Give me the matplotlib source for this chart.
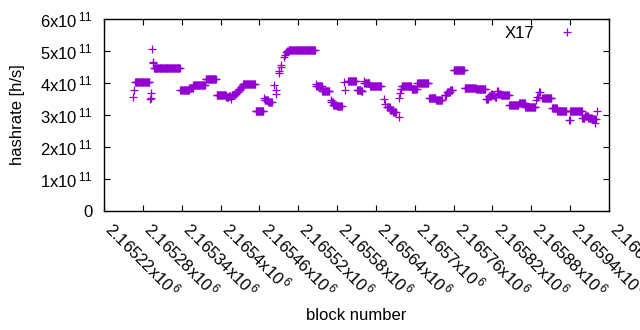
import numpy as np
import matplotlib
matplotlib.use("Agg")
import matplotlib.pyplot as plt
from matplotlib.ticker import FixedLocator, FuncFormatter, NullFormatter
from matplotlib.transforms import offset_copy

plt.rcParams["font.family"] = ["Liberation Sans", "DejaVu Sans"]
plt.rcParams["mathtext.default"] = "regular"

# Hashrate per block, stored as runs of equal value (start block, run length, value in 1e11 h/s)
run_start = [
    2165265, 2165267, 2165268, 2165291, 2165292, 2165293, 2165294, 2165295, 2165296, 2165297,
    2165338, 2165352, 2165358, 2165377, 2165394, 2165409, 2165413, 2165416, 2165417, 2165421,
    2165425, 2165428, 2165431, 2165435, 2165454, 2165467, 2165468, 2165474, 2165482, 2165485,
    2165486, 2165490, 2165491, 2165493, 2165494, 2165498, 2165499, 2165501, 2165503, 2165505,
    2165547, 2165548, 2165557, 2165570, 2165571, 2165574, 2165580, 2165591, 2165593, 2165597,
    2165611, 2165617, 2165621, 2165622, 2165631, 2165652, 2165654, 2165657, 2165662, 2165667,
    2165675, 2165676, 2165677, 2165678, 2165680, 2165695, 2165704, 2165722, 2165733, 2165746,
    2165750, 2165755, 2165760, 2165777, 2165795, 2165810, 2165814, 2165818, 2165820, 2165824,
    2165827, 2165829, 2165833, 2165846, 2165861, 2165871, 2165887, 2165889, 2165892, 2165897,
    2165912, 2165920, 2165938, 2165940, 2165959, 2165963, 2165968, 2165974, 2165978, 2165979,
    2165982,
]
run_len = [
    1, 1, 23, 1, 1, 1, 1, 1, 1, 41,
    14, 6, 19, 17, 15, 4, 3, 1, 4, 4,
    3, 3, 4, 19, 13, 1, 6, 6, 1, 1,
    1, 1, 1, 1, 1, 1, 1, 1, 2, 42,
    1, 9, 12, 1, 3, 6, 8, 1, 1, 13,
    6, 3, 1, 9, 18, 1, 1, 5, 5, 5,
    1, 1, 1, 2, 15, 9, 18, 11, 10, 4,
    5, 4, 17, 18, 15, 4, 4, 2, 4, 3,
    2, 3, 13, 15, 10, 16, 1, 2, 2, 15,
    8, 15, 2, 19, 4, 5, 6, 4, 1, 2,
    1,
]
run_hashrate = [
    3.57, 3.78, 4.02, 3.50, 3.53, 3.68, 5.07, 4.67, 4.62, 4.46,
    3.78, 3.83, 3.93, 4.11, 3.61, 3.55, 3.58, 3.50, 3.62, 3.66,
    3.72, 3.80, 3.87, 3.97, 3.11, 3.52, 3.48, 3.42, 3.94, 3.78,
    3.65, 4.30, 4.36, 4.51, 4.56, 4.82, 4.88, 4.96, 5.00, 5.02,
    3.97, 3.90, 3.74, 3.47, 3.40, 3.32, 3.28, 4.04, 3.78, 4.06,
    3.78, 3.75, 4.07, 4.01, 3.90, 3.49, 3.33, 3.25, 3.15, 3.08,
    2.93, 3.52, 3.68, 3.80, 3.90, 3.81, 4.00, 3.52, 3.48, 3.62,
    3.72, 3.78, 4.40, 3.83, 3.80, 3.50, 3.58, 3.65, 3.62, 3.56,
    3.76, 3.66, 3.61, 3.31, 3.36, 3.26, 3.47, 3.55, 3.73, 3.53,
    3.23, 3.12, 2.84, 3.12, 2.92, 2.97, 2.92, 2.86, 2.74, 2.88,
    3.12,
]

x_ticks = [2165220 + 60 * i for i in range(14)]
y_ticks = [0, 1e11, 2e11, 3e11, 4e11, 5e11, 6e11]

blocks = np.concatenate([np.arange(s, s + n) for s, n in zip(run_start, run_len)])
hashrate = np.repeat(np.array(run_hashrate) * 1e11, run_len)

fig = plt.figure(figsize=(6.4, 3.3), dpi=100)
ax = fig.add_axes([104 / 640, 1 - 211 / 330, 505 / 640, 192 / 330])

ax.plot(blocks, hashrate, linestyle="none", marker="+", markersize=5.2,
        markeredgewidth=0.9, color="#9400d3", label="X17")

ax.set_xlim(2165220, 2166000)
ax.set_ylim(0, 6e11)


def x_label(v):
    mant = ("%.5f" % (v / 1e6)).rstrip("0").rstrip(".")
    return r"$%s$x$10^{\,6}$" % mant


def y_fmt(v, pos):
    if v == 0:
        return "0"
    return r"$%d$x$10^{\,11}$" % round(v / 1e11)


ax.xaxis.set_major_locator(FixedLocator(x_ticks))
ax.yaxis.set_major_locator(FixedLocator(y_ticks))
ax.xaxis.set_major_formatter(NullFormatter())
ax.yaxis.set_major_formatter(FuncFormatter(y_fmt))

ax.tick_params(direction="in", length=4, width=0.8, top=True, right=True,
               labelsize=12, colors="black")
ax.tick_params(axis="y", pad=8)

# rotated x tick labels, text starting at the tick, gnuplot style
lbl_tr = offset_copy(ax.get_xaxis_transform(), fig=fig, x=0, y=-19, units="dots")
for t in x_ticks:
    ax.text(t, 0, x_label(t), transform=lbl_tr, rotation=-45, rotation_mode="anchor",
            ha="left", va="baseline", fontsize=12, clip_on=False)

for sp in ax.spines.values():
    sp.set_linewidth(1.0)

ax.set_xlabel("block number", fontsize=12)
ax.xaxis.set_label_coords(0.5, -0.505)
ax.set_ylabel("hashrate [h/s]", fontsize=12)
ax.yaxis.set_label_coords(-0.156, 0.5)

ax.legend(loc="upper right", frameon=False, markerfirst=False, fontsize=12,
          handlelength=2.0, handletextpad=1.0, borderaxespad=0.0,
          bbox_to_anchor=(0.964, 0.999))

fig.savefig("out.png", dpi=100)
